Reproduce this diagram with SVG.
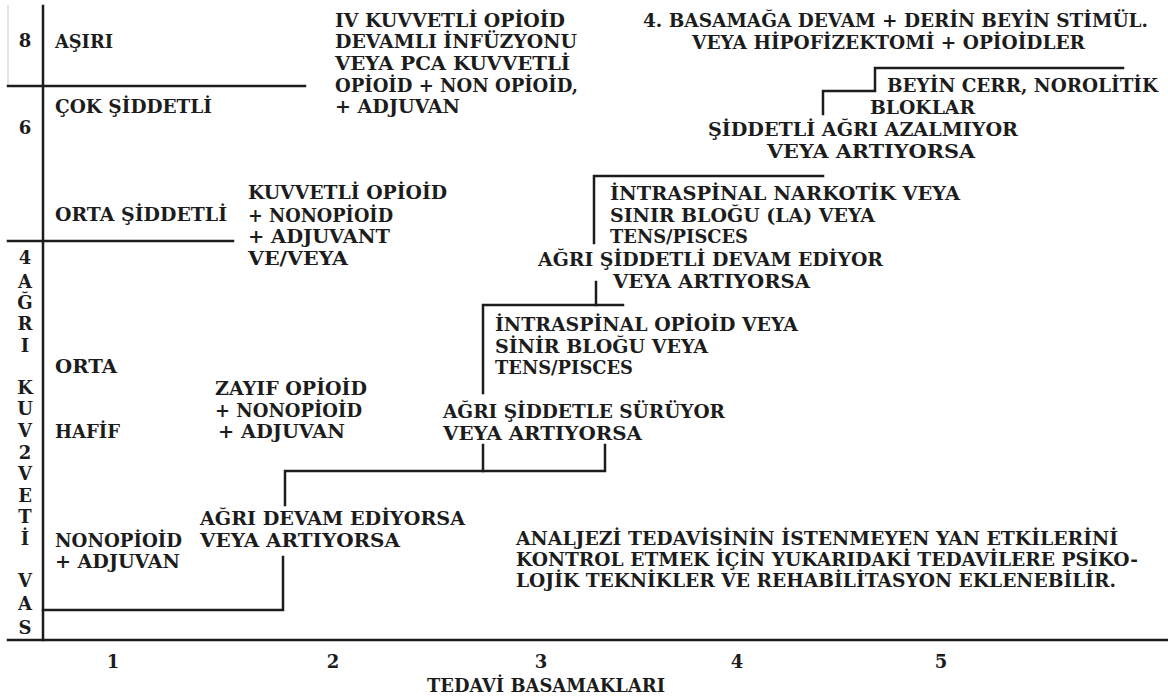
<svg xmlns="http://www.w3.org/2000/svg" width="1168" height="697" viewBox="0 0 1168 697">
<style>
text{font-family:"DejaVu Serif","Liberation Serif",serif;font-weight:bold;font-size:18px;fill:#1c1c1c}
.ln{stroke:#1c1c1c;stroke-width:2.5;fill:none;stroke-linecap:square}
.faint{stroke:#d4d4d4;stroke-width:1.2;fill:none}
</style>
<rect width="1168" height="697" fill="#ffffff"/>
<g id="axes">
<line class="faint" x1="8" y1="5" x2="8" y2="86"/>
<line class="ln" x1="43" y1="6" x2="43" y2="640"/>
<line class="ln" x1="8" y1="640" x2="1168" y2="640"/>
<line class="ln" x1="8" y1="86" x2="305" y2="86"/>
<line class="ln" x1="8" y1="241" x2="233" y2="241"/>
</g>
<g id="y-axis-labels" text-anchor="middle">
<text x="25" y="47">8</text>
<text x="25" y="134">6</text>
<text x="25" y="264">4</text>
<text x="25" y="288">A</text>
<text x="25" y="309">Ğ</text>
<text x="25" y="330">R</text>
<text x="25" y="352">I</text>
<text x="25" y="394">K</text>
<text x="25" y="415">U</text>
<text x="25" y="437">V</text>
<text x="25" y="459">2</text>
<text x="25" y="480">V</text>
<text x="25" y="502">E</text>
<text x="25" y="523">T</text>
<text x="25" y="545">İ</text>
<text x="25" y="587">V</text>
<text x="25" y="610">A</text>
<text x="25" y="634">S</text>
</g>
<g id="intensity-labels">
<text x="55" y="48" textLength="58" lengthAdjust="spacingAndGlyphs">AŞIRI</text>
<text x="55" y="113" textLength="157" lengthAdjust="spacingAndGlyphs">ÇOK ŞİDDETLİ</text>
<text x="55" y="221" textLength="172" lengthAdjust="spacingAndGlyphs">ORTA ŞİDDETLİ</text>
<text x="55" y="373" textLength="62" lengthAdjust="spacingAndGlyphs">ORTA</text>
<text x="55" y="438" textLength="65" lengthAdjust="spacingAndGlyphs">HAFİF</text>
</g>
<g id="step1">
<text x="55" y="547" textLength="127" lengthAdjust="spacingAndGlyphs">NONOPİOİD</text>
<text x="55" y="568" textLength="125" lengthAdjust="spacingAndGlyphs">+ ADJUVAN</text>
</g>
<g id="cond1">
<text x="200" y="525" textLength="265" lengthAdjust="spacingAndGlyphs">AĞRI DEVAM EDİYORSA</text>
<text x="200" y="547" textLength="200" lengthAdjust="spacingAndGlyphs">VEYA ARTIYORSA</text>
</g>
<g id="step2">
<text x="215" y="395" textLength="152" lengthAdjust="spacingAndGlyphs">ZAYIF OPİOİD</text>
<text x="215" y="417" textLength="147" lengthAdjust="spacingAndGlyphs">+ NONOPİOİD</text>
<text x="218" y="438" textLength="127" lengthAdjust="spacingAndGlyphs">+ ADJUVAN</text>
</g>
<g id="cond2">
<text x="443" y="418" textLength="282" lengthAdjust="spacingAndGlyphs">AĞRI ŞİDDETLE SÜRÜYOR</text>
<text x="443" y="440" textLength="199" lengthAdjust="spacingAndGlyphs">VEYA ARTIYORSA</text>
</g>
<g id="step3">
<text x="248" y="199" textLength="199" lengthAdjust="spacingAndGlyphs">KUVVETLİ OPİOİD</text>
<text x="248" y="222" textLength="145" lengthAdjust="spacingAndGlyphs">+ NONOPİOİD</text>
<text x="248" y="243" textLength="142" lengthAdjust="spacingAndGlyphs">+ ADJUVANT</text>
<text x="248" y="265" textLength="100" lengthAdjust="spacingAndGlyphs">VE/VEYA</text>
</g>
<g id="step3b">
<text x="495" y="331" textLength="303" lengthAdjust="spacingAndGlyphs">İNTRASPİNAL OPİOİD VEYA</text>
<text x="495" y="353" textLength="213" lengthAdjust="spacingAndGlyphs">SİNİR BLOĞU VEYA</text>
<text x="495" y="374" textLength="138" lengthAdjust="spacingAndGlyphs">TENS/PISCES</text>
</g>
<g id="cond3">
<text x="538" y="266" textLength="345" lengthAdjust="spacingAndGlyphs">AĞRI ŞİDDETLİ DEVAM EDİYOR</text>
<text x="613" y="288" textLength="197" lengthAdjust="spacingAndGlyphs">VEYA ARTIYORSA</text>
</g>
<g id="step4">
<text x="610" y="200" textLength="350" lengthAdjust="spacingAndGlyphs">İNTRASPİNAL NARKOTİK VEYA</text>
<text x="610" y="222" textLength="265" lengthAdjust="spacingAndGlyphs">SINIR BLOĞU (LA) VEYA</text>
<text x="610" y="243" textLength="138" lengthAdjust="spacingAndGlyphs">TENS/PISCES</text>
</g>
<g id="cond4">
<text x="708" y="136" textLength="310" lengthAdjust="spacingAndGlyphs">ŞİDDETLİ AĞRI AZALMIYOR</text>
<text x="767" y="158" textLength="208" lengthAdjust="spacingAndGlyphs">VEYA ARTIYORSA</text>
</g>
<g id="step5">
<text x="887" y="92" textLength="271" lengthAdjust="spacingAndGlyphs">BEYİN CERR, NOROLİTİK</text>
<text x="870" y="114" textLength="105" lengthAdjust="spacingAndGlyphs">BLOKLAR</text>
</g>
<g id="step5b">
<text x="643" y="27" textLength="505" lengthAdjust="spacingAndGlyphs">4. BASAMAĞA DEVAM + DERİN BEYİN STİMÜL.</text>
<text x="692" y="49" textLength="393" lengthAdjust="spacingAndGlyphs">VEYA HİPOFİZEKTOMİ + OPİOİDLER</text>
</g>
<g id="severe">
<text x="335" y="27" textLength="230" lengthAdjust="spacingAndGlyphs">IV KUVVETLİ OPİOİD</text>
<text x="335" y="48" textLength="242" lengthAdjust="spacingAndGlyphs">DEVAMLI İNFÜZYONU</text>
<text x="335" y="70" textLength="235" lengthAdjust="spacingAndGlyphs">VEYA PCA KUVVETLİ</text>
<text x="335" y="92" textLength="243" lengthAdjust="spacingAndGlyphs">OPİOİD + NON OPİOİD,</text>
<text x="335" y="113" textLength="125" lengthAdjust="spacingAndGlyphs">+ ADJUVAN</text>
</g>
<g id="note">
<text x="516" y="545" textLength="602" lengthAdjust="spacingAndGlyphs">ANALJEZİ TEDAVİSİNİN İSTENMEYEN YAN ETKİLERİNİ</text>
<text x="516" y="566" textLength="622" lengthAdjust="spacingAndGlyphs">KONTROL ETMEK İÇİN YUKARIDAKİ TEDAVİLERE PSİKO-</text>
<text x="516" y="587" textLength="600" lengthAdjust="spacingAndGlyphs">LOJİK TEKNİKLER VE REHABİLİTASYON EKLENEBİLİR.</text>
</g>
<g id="x-axis-labels" text-anchor="middle">
<text x="113" y="668">1</text>
<text x="333" y="668">2</text>
<text x="541" y="668">3</text>
<text x="737" y="668">4</text>
<text x="941" y="668">5</text>
<text x="546" y="692" textLength="238" lengthAdjust="spacingAndGlyphs">TEDAVİ BASAMAKLARI</text>
</g>
<g id="connectors">
<polyline class="ln" points="43,610 283,610 283,557"/>
<polyline class="ln" points="285,505 285,471 605,471 605,445"/>
<line class="ln" x1="483" y1="471" x2="483" y2="445"/>
<polyline class="ln" points="483,393 483,305 623,305"/>
<line class="ln" x1="596" y1="305" x2="596" y2="282"/>
<polyline class="ln" points="594,243 594,176 823,176"/>
<polyline class="ln" points="823,114 823,91 875,91 875,68 1123,68"/>
</g>
</svg>
